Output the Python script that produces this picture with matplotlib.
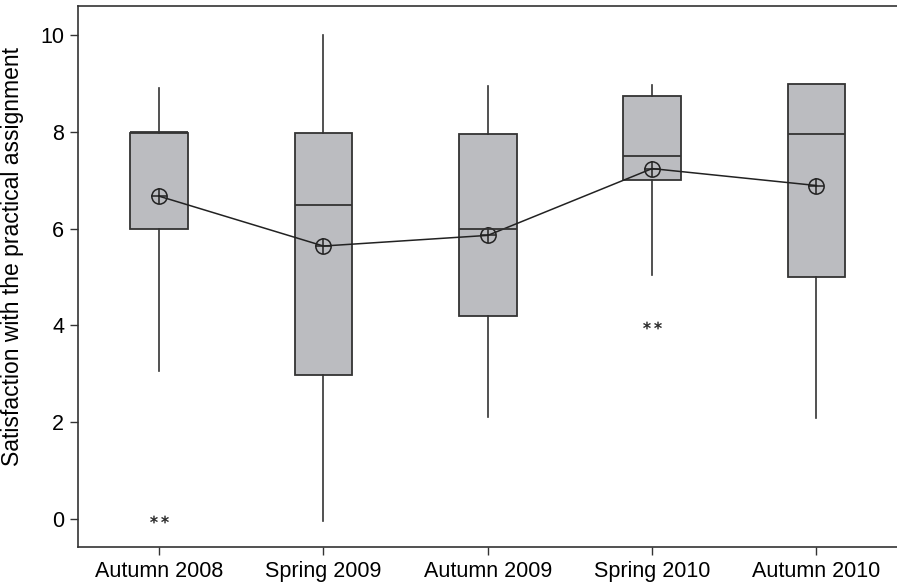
import matplotlib
matplotlib.use("Agg")
import matplotlib.pyplot as plt

plt.rcParams['font.family'] = ['Liberation Sans', 'DejaVu Sans']

# Donnees
semestres = ["Autumn 2008", "Spring 2009", "Autumn 2009", "Spring 2010", "Autumn 2010"]
q1 = [6.0, 2.98, 4.2, 7.0, 5.0]
mediane = [8.0, 6.48, 5.99, 7.49, 7.96]
q3 = [7.98, 7.98, 7.96, 8.73, 8.99]
bas = [3.05, -0.05, 2.1, 5.05, 2.08]
haut = [8.9, 10.0, 8.94, 8.97, 8.99]
moyenne = [6.67, 5.64, 5.86, 7.24, 6.89]
extremes = [[0.0], [], [], [4.0], []]

stats = []
for i, nom in enumerate(semestres):
    stats.append({
        "label": nom,
        "q1": q1[i], "med": mediane[i], "q3": q3[i],
        "whislo": bas[i], "whishi": haut[i],
        "fliers": extremes[i],
    })

fig = plt.figure(figsize=(8.97, 5.82), dpi=100)
ax = fig.add_axes([0.087, 0.0601, 0.913, 0.9296])

pos = list(range(1, len(semestres) + 1))
ax.bxp(stats, positions=pos, widths=0.35, patch_artist=True, showcaps=False,
       boxprops=dict(facecolor="#bbbcc0", edgecolor="#333333", linewidth=1.3),
       medianprops=dict(color="#333333", linewidth=1.3),
       whiskerprops=dict(color="#333333", linewidth=1.2),
       flierprops=dict(marker="$**$", markersize=13, markerfacecolor="#222222",
                       markeredgecolor="#222222", markeredgewidth=0.3))

# moyennes reliees par une ligne
ax.plot(pos, moyenne, color="#222222", linewidth=1.1, marker="o", markersize=11,
        markerfacecolor="none", markeredgecolor="#222222", markeredgewidth=1.1)
ax.plot(pos, moyenne, linestyle="none", marker="+", markersize=11,
        markeredgecolor="#222222", markeredgewidth=1.1)

ax.set_xlim(0.507, 5.49)
ax.set_ylim(-0.58, 10.6)
ax.set_yticks([0, 2, 4, 6, 8, 10])
ax.set_xticks(pos)
ax.set_xticklabels(semestres)
ax.tick_params(labelsize=15.5, length=6, width=1.0, color="#333333", pad=4)
ax.set_ylabel("Satisfaction with the practical assignment", fontsize=16.5)
ax.yaxis.set_label_coords(-0.066, 0.537)

for cote in ["left", "bottom", "top"]:
    ax.spines[cote].set_color("#333333")
    ax.spines[cote].set_linewidth(1.2)
ax.spines["right"].set_visible(False)

fig.savefig("out.png", dpi=100)
